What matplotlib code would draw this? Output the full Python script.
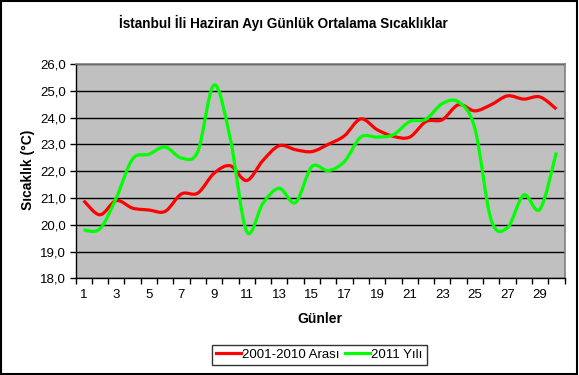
import matplotlib
matplotlib.use("Agg")
import matplotlib.pyplot as plt
from matplotlib.path import Path
from matplotlib.patches import PathPatch, Rectangle
from matplotlib.lines import Line2D
import numpy as np

plt.rcParams['font.family'] = ['Liberation Sans', 'DejaVu Sans']

days = list(range(1, 31))
avg_2001_2010 = [20.90, 20.37, 20.90, 20.62, 20.55, 20.50, 21.15, 21.18, 21.92, 22.20,
                 21.65, 22.40, 22.95, 22.80, 22.73, 23.00, 23.32, 23.95, 23.55, 23.30,
                 23.27, 23.85, 23.92, 24.48, 24.25, 24.48, 24.81, 24.69, 24.77, 24.32]
year_2011 = [19.80, 19.85, 21.00, 22.45, 22.63, 22.90, 22.49, 22.73, 25.22, 23.20,
             19.75, 20.80, 21.36, 20.83, 22.17, 22.02, 22.36, 23.27, 23.27, 23.36,
             23.85, 23.94, 24.52, 24.58, 23.60, 20.18, 19.89, 21.11, 20.58, 22.70]
y_ticks = [18, 19, 20, 21, 22, 23, 24, 25, 26]
x_labels = [1, 3, 5, 7, 9, 11, 13, 15, 17, 19, 21, 23, 25, 27, 29]

title = "İstanbul İli Haziran Ayı Günlük Ortalama Sıcaklıklar"
ylabel = "Sıcaklık (°C)"
xlabel = "Günler"
series_names = ["2001-2010 Arası", "2011 Yılı"]
colors = ["#FF0000", "#00FF00"]

W, H = 579, 375
fig = plt.figure(figsize=(W / 100, H / 100), dpi=100)
ax = fig.add_axes([75.5 / W, 1 - 278.3 / H, (564.5 - 75.5) / W, (278.3 - 64) / H])
ax.set_facecolor("#C0C0C0")


def smooth_path(xs, ys):
    # Excel-style smoothed line: cubic Bezier with Catmull-Rom control points
    pts = np.column_stack([xs, ys]).astype(float)
    n = len(pts)
    verts = [pts[0]]
    codes = [Path.MOVETO]
    for i in range(n - 1):
        p0 = pts[i - 1] if i > 0 else pts[i]
        p1 = pts[i]
        p2 = pts[i + 1]
        p3 = pts[i + 2] if i + 2 < n else pts[i + 1]
        c1 = p1 + (p2 - p0) / 6.0
        c2 = p2 - (p3 - p1) / 6.0
        verts += [c1, c2, p2]
        codes += [Path.CURVE4] * 3
    return Path(verts, codes)


for vals, c in zip([avg_2001_2010, year_2011], colors):
    patch = PathPatch(smooth_path(days, vals), facecolor="none", edgecolor=c,
                      lw=2.3, capstyle="butt", joinstyle="round", zorder=3)
    ax.add_patch(patch)

ax.set_xlim(0.5, 30.5)
ax.set_ylim(18, 26)
ax.set_yticks(y_ticks)
ax.set_yticklabels([f"{v:.1f}".replace(".", ",") for v in y_ticks])
ax.yaxis.grid(True, color="black", lw=1.0)
ax.set_axisbelow(True)

ax.set_xticks(x_labels)
ax.set_xticklabels([str(v) for v in x_labels])
ax.set_xticks(np.arange(0.5, 31, 1), minor=True)
ax.tick_params(axis="x", which="major", length=0, pad=8, labelsize=9.5)
ax.tick_params(axis="x", which="minor", length=4, direction="out", width=1, color="black")
ax.tick_params(axis="y", which="major", length=4, direction="out", width=1, labelsize=9.5, pad=3)

for s in ["top", "right"]:
    ax.spines[s].set_color("#808080")
    ax.spines[s].set_linewidth(1.2)
for s in ["left", "bottom"]:
    ax.spines[s].set_color("black")
    ax.spines[s].set_linewidth(1.0)

fig.text(283.5 / W, 1 - 23 / H, title, ha="center", va="center",
         fontsize=9.8, fontweight="bold")
fig.text(28 / W, 1 - 170 / H, ylabel, ha="center", va="center", rotation=90,
         fontsize=10, fontweight="bold")
fig.text(320 / W, 1 - 319 / H, xlabel, ha="center", va="center",
         fontsize=10, fontweight="bold")

handles = [Line2D([0], [0], color=c, lw=2.3) for c in colors]
leg = fig.legend(handles, series_names, loc="center", bbox_to_anchor=(319.3 / W, 1 - 354.7 / H),
                 ncol=2, frameon=True, fancybox=False, fontsize=9.5, handlelength=1.9,
                 handletextpad=0.1, columnspacing=0.4, borderpad=0.3, borderaxespad=0)
leg.get_frame().set_edgecolor("black")
leg.get_frame().set_linewidth(1.0)

fig.add_artist(Rectangle((0.5 / W, 1.5 / H), 576 / W, 372.5 / H, transform=fig.transFigure,
                         fill=False, edgecolor="black", lw=1.5))

fig.savefig("out.png", dpi=100, facecolor="white")
